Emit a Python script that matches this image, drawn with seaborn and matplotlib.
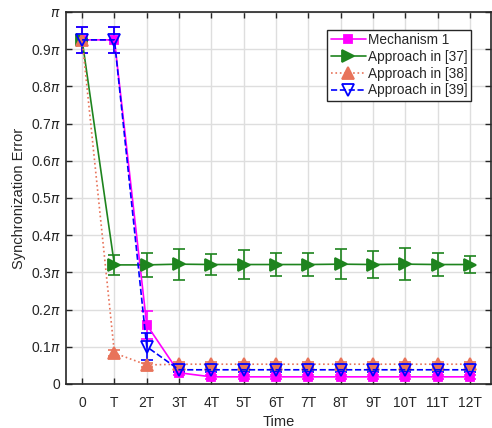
import numpy as np
import pandas as pd
import seaborn as sns
import matplotlib.pyplot as plt

# time steps (multiples of T) and tick labels
steps = list(range(13))
tick_labels = ['0', 'T', '2T', '3T', '4T', '5T', '6T', '7T', '8T', '9T', '10T', '11T', '12T']

# synchronization error in units of pi
mech1 = [0.925, 0.925, 0.159, 0.030, 0.019, 0.019, 0.019, 0.019, 0.019, 0.019, 0.019, 0.019, 0.019]
mech1_err = [0.035, 0.035, 0.037, 0.005, 0.005, 0.005, 0.005, 0.005, 0.005, 0.005, 0.005, 0.005, 0.005]

ap37 = [0.925, 0.320, 0.320, 0.322, 0.321, 0.321, 0.321, 0.321, 0.322, 0.321, 0.322, 0.321, 0.321]
ap37_err = [0.005, 0.027, 0.032, 0.042, 0.028, 0.039, 0.031, 0.031, 0.041, 0.036, 0.043, 0.031, 0.022]

ap38 = [0.925, 0.083, 0.051, 0.053, 0.053, 0.053, 0.053, 0.053, 0.053, 0.053, 0.053, 0.053, 0.053]
ap38_err = [0.008, 0.008, 0.006, 0.006, 0.006, 0.006, 0.006, 0.006, 0.006, 0.006, 0.006, 0.006, 0.006]

ap39 = [0.925, 0.925, 0.100, 0.038, 0.038, 0.038, 0.038, 0.038, 0.038, 0.038, 0.038, 0.038, 0.038]
ap39_err = [0.035, 0.035, 0.037, 0.005, 0.005, 0.005, 0.005, 0.005, 0.005, 0.005, 0.005, 0.005, 0.005]

y_ticks = [0, 0.1, 0.2, 0.3, 0.4, 0.5, 0.6, 0.7, 0.8, 0.9, 1.0]
y_labels = ['0'] + [r'0.%d$\pi$' % i for i in range(1, 10)] + [r'$\pi$']

sns.set_theme(style="whitegrid")
plt.rcParams['font.family'] = ['Liberation Sans', 'DejaVu Sans']
plt.rcParams['mathtext.fontset'] = 'custom'
plt.rcParams['mathtext.it'] = 'DejaVu Sans:italic'
plt.rcParams['mathtext.rm'] = 'Liberation Sans'

fig = plt.figure(figsize=(4.92, 4.28), dpi=100)
ax = fig.add_axes([0.134, 0.103, 0.864, 0.869])

series = [
    ('Mechanism 1', mech1, mech1_err, '#FF00FF', 's', '-', 6, 'full'),
    ('Approach in [37]', ap37, ap37_err, '#1E841E', '>', '-', 9, 'full'),
    ('Approach in [38]', ap38, ap38_err, '#E8735A', '^', ':', 9, 'full'),
    ('Approach in [39]', ap39, ap39_err, '#0000FF', 'v', '--', 8, 'none'),
]

for name, vals, err, color, marker, ls, ms, fill in series:
    df = pd.DataFrame({'step': steps, 'err': vals})
    ax.errorbar(steps, vals, yerr=err, fmt='none', ecolor=color, elinewidth=1.2,
                capsize=4, capthick=1.2, zorder=3)
    sns.lineplot(data=df, x='step', y='err', ax=ax, color=color, linestyle=ls,
                 linewidth=1.2, marker=marker, markersize=ms, fillstyle=fill,
                 markeredgecolor=color, markeredgewidth=1.3, label=name, zorder=4)

ax.set_xlim(-0.5, 12.65)
ax.set_ylim(0, 1.0)
ax.set_xticks(steps)
ax.set_xticklabels(tick_labels)
ax.set_yticks(y_ticks)
ax.set_yticklabels(y_labels)
ax.set_xlabel('Time', fontsize=10.5, color='#262626', labelpad=3)
ax.set_ylabel('Synchronization Error', fontsize=10.5, color='#262626', labelpad=3)
ax.tick_params(axis='both', labelsize=10, colors='#262626', direction='in',
               length=4, width=1, top=True, right=True, bottom=True, left=True)
ax.tick_params(axis='x', pad=9)
ax.tick_params(axis='y', pad=4)
ax.grid(True, color='#DEDEDE', linewidth=1)
ax.set_facecolor('white')
for s in ax.spines.values():
    s.set_edgecolor('#262626')
    s.set_linewidth(1.2)

leg = ax.legend(loc='upper right', bbox_to_anchor=(0.953, 0.952), fontsize=9.8,
                frameon=True, fancybox=False, framealpha=1, borderpad=0.25,
                labelspacing=0.2, handlelength=2.6, handletextpad=0.15,
                borderaxespad=0)
leg.get_frame().set_edgecolor('#262626')
leg.get_frame().set_linewidth(1)

fig.savefig('out.png', dpi=100)
